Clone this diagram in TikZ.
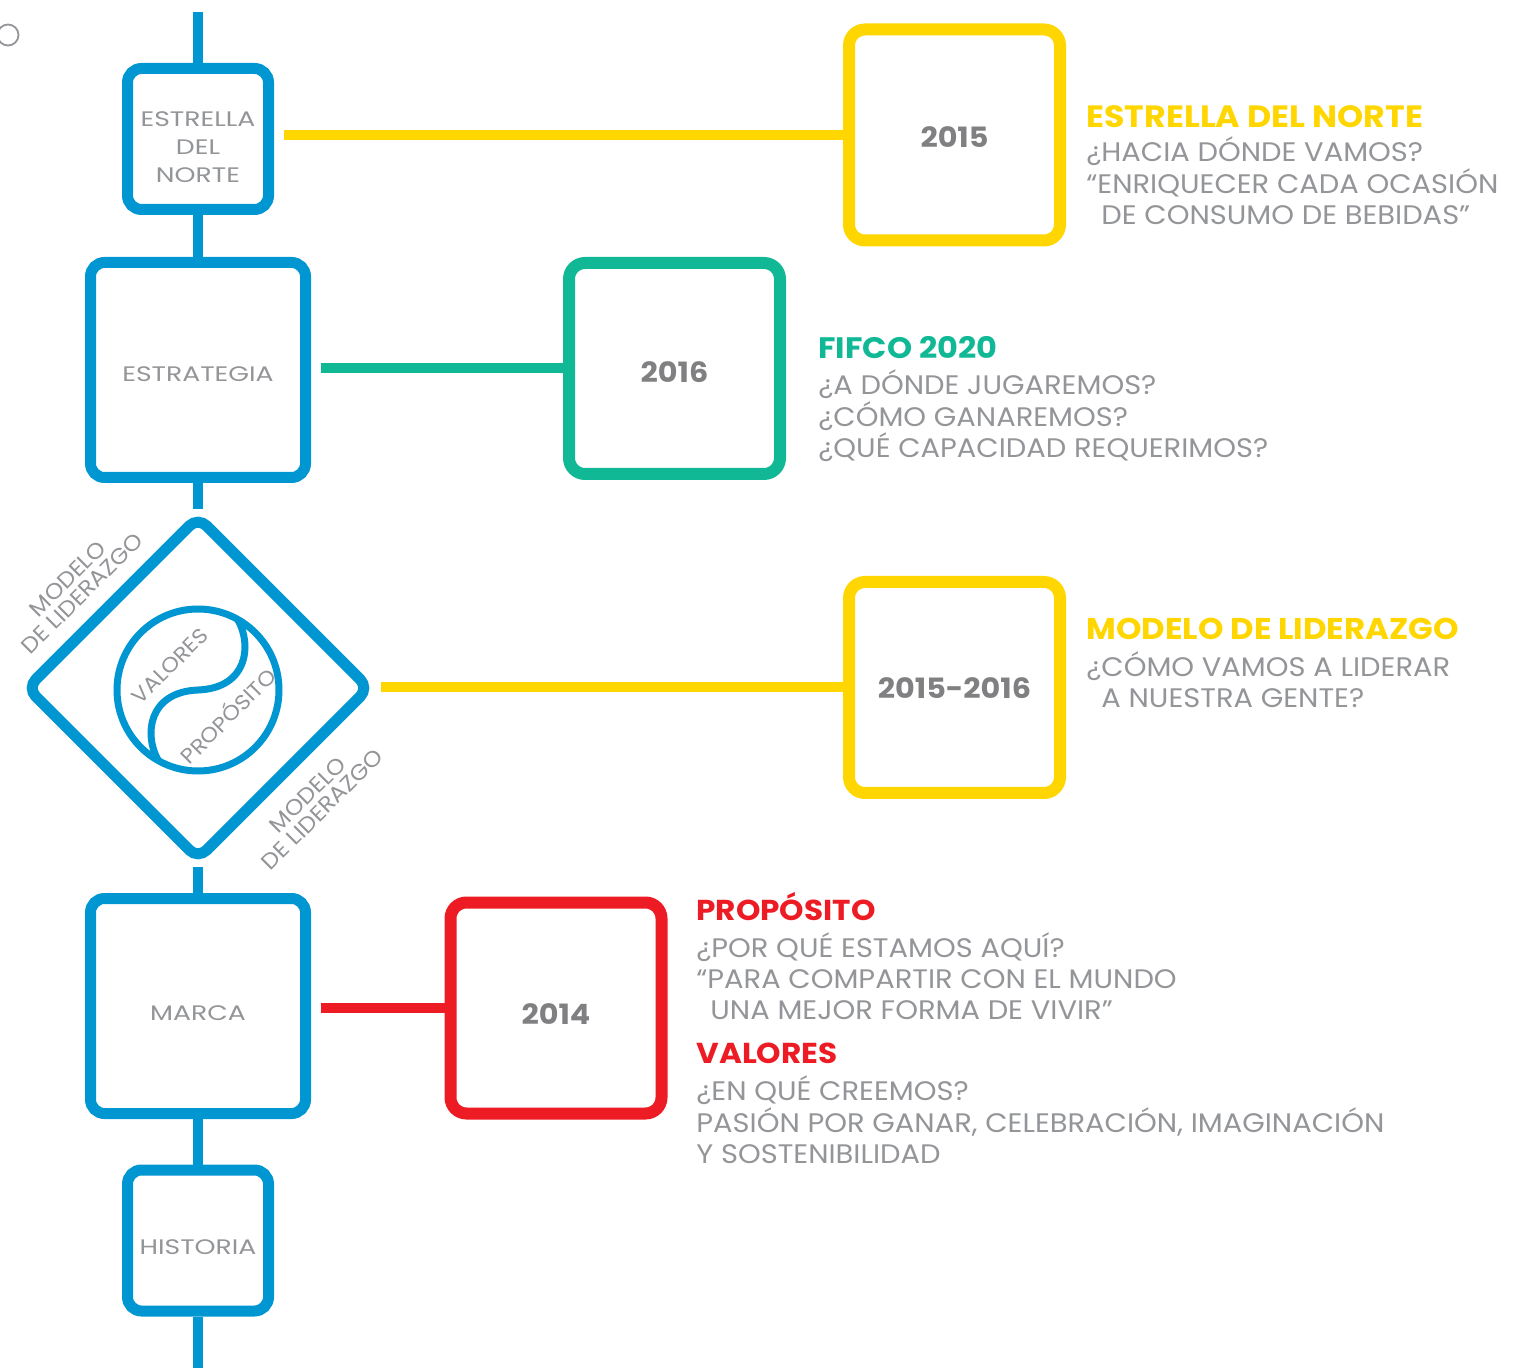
\documentclass[tikz,border=0pt]{standalone}
\usepackage{fontspec}
\setmainfont{Poppins}[FakeStretch=1.08]
\newfontfamily\widefont{Poppins}[FakeStretch=1.27]
\usetikzlibrary{shapes.geometric}
\definecolor{fblue}{RGB}{0,150,210}
\definecolor{fyellow}{RGB}{255,214,0}
\definecolor{fgreen}{RGB}{16,184,150}
\definecolor{fred}{RGB}{237,28,36}
\definecolor{ftext}{RGB}{147,149,152}
\definecolor{fyear}{RGB}{128,128,130}
\begin{document}
\begin{tikzpicture}[x=0.5pt,y=-0.5pt,
  spine/.style={draw=fblue,line width=5pt},
  stage/.style={draw=fblue,line width=5.5pt,fill=white,rounded corners=7pt,inner sep=0pt},
  smallstage/.style={stage,minimum width=70.5pt,minimum height=70.5pt},
  bigstage/.style={stage,minimum width=107.5pt,minimum height=107.5pt},
  stagetext/.style={text=ftext,align=center,inner sep=0pt,font=\widefont\fontsize{10.5}{14}\selectfont},
  yearbox/.style={line width=6pt,fill=white,rounded corners=8pt,minimum width=105.5pt,minimum height=105.5pt,inner sep=0pt},
  yeartext/.style={inner sep=0pt,font=\bfseries\fontsize{14}{16}\selectfont,text=fyear},
  link/.style={line width=5pt,shorten <=5pt},
  head/.style={anchor=base west,inner sep=0pt,font=\bfseries\fontsize{14.8}{18}\selectfont},
  body/.style={anchor=base west,inner sep=0pt,font=\fontsize{13.4}{16}\selectfont,text=ftext},
  tilt/.style={rotate=45,text=ftext,inner sep=0pt,align=center,font=\fontsize{11}{10.3}\selectfont}
]
\useasboundingbox (0,0) rectangle (1526,1368);

% small mark in the corner
\draw[ftext,line width=0.9pt] (8,35) circle (10.5);

% stages on the spine
\node[smallstage] (est) at (198,139) {};
\node[bigstage] (strat) at (198,370) {};
\node[draw=fblue,line width=5.5pt,fill=white,diamond,aspect=1,minimum width=173pt,minimum height=173pt,inner sep=0pt,rounded corners=6pt] (dia) at (198,688) {};
\node[bigstage] (marca) at (198,1006) {};
\node[smallstage] (hist) at (198,1240.5) {};

\coordinate (top) at (198,12);
\coordinate (bottom) at (198,1368);
\draw[spine] (top) -- (est.north);
\draw[spine] (est.south) -- (strat.north);
\draw[spine] (strat.south) -- (dia.north);
\draw[spine] (dia.south) -- (marca.north);
\draw[spine] (marca.south) -- (hist.north);
\draw[spine] (hist.south) -- (bottom);

\node[stagetext] (estT) at (198,147) {ESTRELLA\\DEL\\NORTE};
\node[stagetext] (stratT) at (198,374.5) {ESTRATEGIA};
\node[stagetext] (marcaT) at (198,1013) {MARCA};
\node[stagetext] (histT) at (198,1247) {HISTORIA};

% circle with the S-curve inside the diamond
\draw[fblue,line width=3.5pt] (198,690) circle (81);
\coordinate (sA) at (238,620);
\coordinate (sM) at (198,690);
\coordinate (sB) at (158,760);
\draw[fblue,line width=3.5pt] (sA) .. controls (252,645) and (248,688) .. (sM) .. controls (148,692) and (144,735) .. (sB);
\node[tilt,font=\fontsize{10.5}{11}\selectfont] (valT) at (170,666) {VALORES};
\node[tilt,font=\fontsize{10.5}{11}\selectfont] (propT) at (227,715) {PROPÓSITO};
\node[tilt] (modA) at (75,586) {MODELO\\DE LIDERAZGO};
\node[tilt] (modB) at (315,802) {MODELO\\DE LIDERAZGO};

% dated boxes
\node[yearbox,draw=fyellow] (y15) at (954.5,135) {};
\node[yearbox,draw=fgreen] (y16) at (674.5,368.5) {};
\node[yearbox,draw=fyellow] (y1516) at (954.5,687.5) {};
\node[yearbox,draw=fred] (y14) at (556,1008) {};
\node[yeartext] (y15T) at (954.5,137.5) {2015};
\node[yeartext] (y16T) at (674.5,372) {2016};
\node[yeartext] (y1516T) at (954.5,688.5) {2015-2016};
\node[yeartext] (y14T) at (556,1014) {2014};

\draw[link,fyellow] (y15.west -| est.east) -- (y15.west);
\draw[link,fgreen] (y16.west -| strat.east) -- (y16.west);
\draw[link,fyellow,shorten <=2pt] (y1516.west -| dia.east) -- (y1516.west);
\draw[link,fred] (y14.west -| marca.east) -- (y14.west);

% descriptions
\node[head,text=fyellow,font=\bfseries\fontsize{15.4}{18}\selectfont] (h1) at (1086,128) {ESTRELLA DEL NORTE};
\node[body] (b11) at (1086,162) {¿HACIA DÓNDE VAMOS?};
\node[body] (b12) at (1086,194) {“ENRIQUECER CADA OCASIÓN};
\node[body] (b13) at (1101,225) {DE CONSUMO DE BEBIDAS”};

\node[head,text=fgreen] (h2) at (818,359) {FIFCO 2020};
\node[body] (b21) at (818,395) {¿A DÓNDE JUGAREMOS?};
\node[body] (b22) at (818,427) {¿CÓMO GANAREMOS?};
\node[body] (b23) at (818,458) {¿QUÉ CAPACIDAD REQUERIMOS?};

\node[head,text=fyellow,font=\bfseries\fontsize{15}{18}\selectfont] (h3) at (1086,640) {MODELO DE LIDERAZGO};
\node[body] (b31) at (1086,677) {¿CÓMO VAMOS A LIDERAR};
\node[body] (b32) at (1101,708) {A NUESTRA GENTE?};

\node[head,text=fred,font=\bfseries\fontsize{14.4}{18}\selectfont] (h4) at (696,920) {PROPÓSITO};
\node[body] (b41) at (696,957) {¿POR QUÉ ESTAMOS AQUÍ?};
\node[body] (b42) at (696,988) {“PARA COMPARTIR CON EL MUNDO};
\node[body] (b43) at (710,1019) {UNA MEJOR FORMA DE VIVIR”};
\node[head,text=fred,font=\bfseries\fontsize{14.4}{18}\selectfont] (h5) at (696,1063) {VALORES};
\node[body] (b51) at (696,1100) {¿EN QUÉ CREEMOS?};
\node[body] (b52) at (696,1132) {PASIÓN POR GANAR, CELEBRACIÓN, IMAGINACIÓN};
\node[body] (b53) at (696,1163) {Y SOSTENIBILIDAD};
\end{tikzpicture}
\end{document}
